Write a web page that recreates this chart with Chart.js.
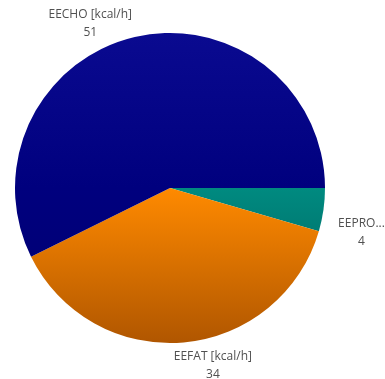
<!DOCTYPE html>
<html>
<head>
<meta charset="utf-8">
<script src="https://cdn.jsdelivr.net/npm/chart.js@4/dist/chart.umd.min.js"></script>
<style>
html,body{margin:0;padding:0;background:#fff;}
#wrap{width:385px;height:379px;}
</style>
</head>
<body>
<div id="wrap"><canvas id="c" width="385" height="379"></canvas></div>
<script>
const categories = ["EEPRO [kcal/h]", "EEFAT [kcal/h]", "EECHO [kcal/h]"];
const displayLabels = ["EEPRO...", "EEFAT [kcal/h]", "EECHO [kcal/h]"];
const values = [4, 34, 51];

// color stops [offset, color] across the pie's vertical extent
const gradStops = [
  [[0, "#009a90"], [0.5, "#008a80"], [1, "#005a58"]],
  [[0, "#ff9a10"], [0.5, "#ff8a00"], [1, "#b05600"]],
  [[0, "#0a0a90"], [0.5, "#00007e"], [1, "#000070"]]
];

function bg(ctx) {
  const chart = ctx.chart;
  const a = chart.chartArea;
  const stops = gradStops[ctx.dataIndex];
  if (!a) return stops[1][1];
  const g = chart.ctx.createLinearGradient(0, a.top, 0, a.bottom);
  stops.forEach(s => g.addColorStop(s[0], s[1]));
  return g;
}

const labelPlugin = {
  id: 'outLabels',
  afterDatasetsDraw(chart) {
    const ctx = chart.ctx;
    const meta = chart.getDatasetMeta(0);
    ctx.save();
    ctx.fillStyle = '#505050';
    ctx.font = '12px "Open Sans", sans-serif';
    meta.data.forEach((arc, i) => {
      const p = arc.getProps(['x','y','startAngle','endAngle','outerRadius'], true);
      const mid = (p.startAngle + p.endAngle) / 2;
      const cx = Math.cos(mid), sy = Math.sin(mid);
      const r = p.outerRadius + 12;
      const ax = p.x + cx * r, ay = p.y + sy * r;
      const lines = [displayLabels[i], String(values[i])];
      const w = Math.max(...lines.map(t => ctx.measureText(t).width));
      let left, top;
      if (sy >= 0) {
        left = (cx >= 0 ? ax : ax - w) + 5 - 16 * sy;
        top = ay + 8 - 12 * sy;
      } else {
        left = cx >= 0 ? ax : ax - w;
        top = ay - 17;
      }
      ctx.textAlign = 'center';
      ctx.textBaseline = 'top';
      ctx.fillText(lines[0], left + w / 2, top);
      ctx.fillText(lines[1], left + w / 2, top + 18);
    });
    ctx.restore();
  }
};

new Chart(document.getElementById('c'), {
  type: 'pie',
  data: {
    labels: categories,
    datasets: [{
      data: values,
      backgroundColor: bg,
      borderWidth: 0
    }]
  },
  options: {
    responsive: false,
    animation: false,
    rotation: 90,
    layout: { padding: { left: 15, right: 60, top: 33, bottom: 36 } },
    plugins: { legend: { display: false }, tooltip: { enabled: false } }
  },
  plugins: [labelPlugin]
});
</script>
</body>
</html>
